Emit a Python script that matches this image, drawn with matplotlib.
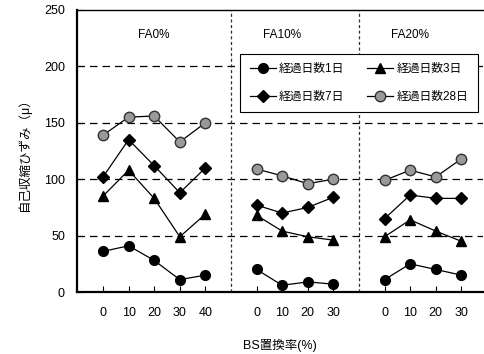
import matplotlib
matplotlib.use('Agg')
import matplotlib.pyplot as plt

plt.rcParams['font.family'] = ['Liberation Sans', 'Noto Sans CJK JP']
plt.rcParams['font.size'] = 9

# BS replacement rate (%) for each FA group
groups = ['FA0%', 'FA10%', 'FA20%']
bs_fa0 = [0, 10, 20, 30, 40]
bs_fa10 = [0, 10, 20, 30]
bs_fa20 = [0, 10, 20, 30]

# autogenous shrinkage strain (micro) by age
day1_fa0 = [36, 41, 28, 11, 15]
day1_fa10 = [20, 6, 9, 7]
day1_fa20 = [11, 25, 20, 15]

day3_fa0 = [85, 108, 83, 49, 69]
day3_fa10 = [68, 54, 49, 46]
day3_fa20 = [49, 64, 54, 45]

day7_fa0 = [102, 135, 112, 88, 110]
day7_fa10 = [77, 70, 75, 84]
day7_fa20 = [65, 86, 83, 83]

day28_fa0 = [139, 155, 156, 133, 150]
day28_fa10 = [109, 103, 96, 100]
day28_fa20 = [99, 108, 102, 118]

series_labels = ['経過日数1日', '経過日数3日', '経過日数7日', '経過日数28日']

# positions on the shared x axis (gap between groups)
pos_fa0 = [1, 2, 3, 4, 5]
pos_fa10 = [7, 8, 9, 10]
pos_fa20 = [12, 13, 14, 15]
dividers = [6, 11]
title_pos = [3, 8, 13]

fig = plt.figure(figsize=(4.85, 3.54), dpi=100)
ax = fig.add_axes([0.1596, 0.175, 0.8365, 0.797])

styles = [
    dict(marker='o', markersize=7, markerfacecolor='black', markeredgecolor='black'),
    dict(marker='^', markersize=7.5, markerfacecolor='black', markeredgecolor='black'),
    dict(marker='D', markersize=6, markerfacecolor='black', markeredgecolor='black'),
    dict(marker='o', markersize=7.5, markerfacecolor='#999999', markeredgecolor='#333333'),
]
all_series = [
    (day1_fa0, day1_fa10, day1_fa20),
    (day3_fa0, day3_fa10, day3_fa20),
    (day7_fa0, day7_fa10, day7_fa20),
    (day28_fa0, day28_fa10, day28_fa20),
]

handles = []
for label, st, (a, b, c) in zip(series_labels, styles, all_series):
    h, = ax.plot(pos_fa0, a, color='black', lw=0.9, label=label, zorder=3, **st)
    ax.plot(pos_fa10, b, color='black', lw=0.9, zorder=3, **st)
    ax.plot(pos_fa20, c, color='black', lw=0.9, zorder=3, **st)
    handles.append(h)

for y in [50, 100, 150, 200]:
    ax.axhline(y, color='black', lw=0.9, ls=(0, (6, 4)), zorder=1)
for d in dividers:
    ax.axvline(d, color='#333333', lw=0.9, ls=(0, (2.5, 2)), zorder=1)

for g, x in zip(groups, title_pos):
    ax.text(x, 228, g, ha='center', va='center', fontsize=8.5)

ax.set_xlim(0, 15.85)
ax.set_ylim(0, 250)
ax.set_yticks([0, 50, 100, 150, 200, 250])
ax.set_xticks(pos_fa0 + pos_fa10 + pos_fa20)
ax.set_xticklabels([str(v) for v in bs_fa0 + bs_fa10 + bs_fa20])
ax.tick_params(axis='x', direction='in', length=4, pad=11, width=0.8)
ax.tick_params(axis='y', direction='in', length=4, pad=9, width=0.8)

ax.spines['right'].set_visible(False)
ax.spines['left'].set_linewidth(1.6)
ax.spines['bottom'].set_linewidth(1.6)
ax.spines['top'].set_linewidth(1.0)

ax.set_xlabel('BS置換率(%)', labelpad=14)
ax.set_ylabel('自己収縮ひずみ（μ）', labelpad=9)

# row-major order: 1日, 3日 / 7日, 28日
order = [0, 2, 1, 3]
leg = ax.legend([handles[i] for i in order], [series_labels[i] for i in order],
                ncol=2, loc='center', bbox_to_anchor=(0.401, 0.642, 0.586, 0.198),
                mode='expand', borderaxespad=0, fancybox=False, edgecolor='black',
                framealpha=1, fontsize=8.5, handlelength=2.2, borderpad=0.8,
                labelspacing=1.35, columnspacing=1.0, handletextpad=0.3)
leg.get_frame().set_linewidth(0.8)
leg.set_zorder(5)

fig.savefig('out.png', dpi=100)
